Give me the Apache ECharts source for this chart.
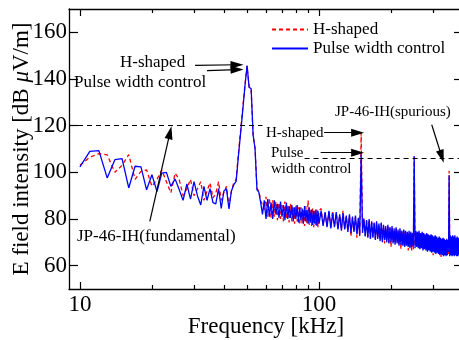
<!DOCTYPE html>
<html><head><meta charset="utf-8">
<script src="https://cdn.jsdelivr.net/npm/echarts@6/dist/echarts.min.js"></script>
<style>html,body{margin:0;padding:0;background:#fff}#c{width:459px;height:340px}</style>
</head><body><div id="c"></div>
<script>
// Frequencies in kHz
const freqLow = [10,11,12,13,14,15,16,17,18,19,20,21,22,23,24,25,26,27,28,29,30,31,32,33,34,35,36,37,38,39,40,41,42,43,44,45,46,47,48,49,50,51,52,53,54,55,56,57,58,59,60,61,62,63,64,65,66,67,68,69,70,71,72,73,74,75,76,77,78,79,80,81,82,83,84,85,86,87,88,89,90,91,92,93,94,95,96,97,98,99,100];
const freqHigh = [102,104,106,108,110,112,114,116,118,120,122,124,126,128,130,132,134,136,138,140,142,144,146,148,150,152,154,156,158,160,162,164,166,168,170,172,174,176,178,180,182,184,186,188,190,192,194,196,198,200,202,204,206,208,210,212,214,216,218,220,222,224,226,228,230,232,234,236,238,240,242,244,246,248,250,252,254,256,258,260,262,264,266,268,270,272,274,276,278,280,282,284,286,288,290,292,294,296,298,300,302,304,306,308,310,312,314,316,318,320,322,324,326,328,330,332,334,336,338,340,342,344,346,348,350,352,354,356,358,360,362,364,366,368,370,372,374,376,378,380,382,384,386,388,390,392,394,396,398,400];

// Pulse width control (blue), dB uV/m
const blueLow = [
102.3,109,109.3,97.6,105.4,105.9,93.3,102.6,102.3,92.5,
99,91.8,99.7,100,94,97.2,92.6,88,95,88.5,
96,90,86,94,88,93,87,86.5,93,84.5,
92,93,84.3,92,94.7,96.1,107,117,127,137,
145.8,136.5,135.8,116,110,92.5,91.5,87,82,88,
80,88.5,81,87,80,88,82,86.5,80.5,87.5,
81,86,79.5,87,80,85.5,80.5,86,79,85,
80,86,78.5,85,79.5,84.5,78,85.5,79,84,
78,85,78.5,84,77.5,83.5,78,84,77,83.5,
78];
const blueHigh = [
83.5,77,83,76.5,83.5,76,82.5,76.5,83,75.5,
82,75,82.5,75.5,81.5,74.5,82,74,81,74.5,
81.5,73.5,80.5,73,
107.6,
74,80,72.5,79.5,72,80,71.5,79,72,78.5,
71,79,71.5,78,70.5,78.5,70,77.5,71,77,
70,77.5,69.5,76.5,70,77,69.5,76,69,76.5,
69.5,75.5,68.5,76,69,75,68.5,75.5,68,75,
68.5,74.5,68,75,67.5,74.5,68,74,68.5,
107,
67.5,75,68,74.5,67.5,75,67,74,67.5,74.5,
66.5,74,67,73.5,66.5,74,66,73.5,66.5,73,
66,73.5,65.5,73,66,72.5,65.5,73,65,72.5,
65.5,72,65,72.5,64.5,72,65,71.5,64.5,72,
64,71.5,64.5,71,64,71.5,64.5,71,66,
98.6,
64,73,64.5,72.5,64,73,64.5,72.5,64,73,
64.5,72,64,72.5,64,72,64.5,72,64,72,
64.5,71.5,64,72,64];

// H-shaped (red dashed)
const redLow = [
103,106.5,108,107.5,100,103,107.6,97,100.4,101,
94,97,101,96,91.2,99.7,97,90,93,97,
90,93,96,88,92,95.5,89,91,96,88,
91.5,94,85.5,92,95.5,97,108,118,128,137.5,
145.5,136.5,135.5,116,110.5,93,92,88,86,84,
89.5,81,89,80.5,88,81,87.5,79.5,87,80,
86,79,87.5,80,86,78.5,86.5,79,85.5,78,
86,79,85,77.5,85,78,84.5,77,85.5,78,
88,77.5,84,77,84.5,76.5,83.5,77,84,76.5,
83.5];
const redHigh = [
84.5,77.5,82.5,77,83,76.5,83.5,77,82.5,76,
81.5,75.5,83.5,76,81,75,81.5,72.5,80.5,75,
81,72,80,72.5,
117,
76,80.5,73,79,72.5,79.5,72,78.5,72.5,78,
71.5,78.5,72,77.5,71,78,70.5,77,69.5,76.5,
70.5,77,70,76,68,76.5,70,75.5,69.5,76,
70,75,69,75.5,67,74.5,69,75,68.5,74.5,
69,74,66.5,74.5,68,74,66.5,73.5,67,
106.5,
68.5,74.5,68.5,74,68,74.5,67.5,73.5,68,74,
67,73.5,67.5,73,67,73.5,66.5,73,67,72.5,
66.5,73,66,72.5,64.5,72,66,72.5,65.5,72,
66,71.5,65.5,72,65,71.5,63.5,71,65,71.5,
64.5,71,65,70.5,64.5,71,65,70.5,65,
100.7,
65,72.5,65,72,64.5,72.5,65,72,64.5,72.5,
65,71.5,64.5,72,64.5,71.5,65,71.5,64.5,71.5,
65,71,64.5,71.5,64.5];

// Axis tick values
const xMajorTicks = [10, 100];
const xMinorTicks = [20,30,40,50,60,70,80,90,200,300,400];
const yTickValues = [60,80,100,120,140,160];
const seriesNames = ['H-shaped', 'Pulse width control'];

const freqs = freqLow.concat(freqHigh);
const blue = blueLow.concat(blueHigh);
const red = redLow.concat(redHigh);
const redData = freqs.map((f, i) => [f, red[i]]);
const blueData = freqs.map((f, i) => [f, blue[i]]);

const FONT = 'Liberation Serif';
const X_MIN = 9, X_MAX = 400, Y_MIN = 50, Y_MAX = 170;

function xAxis(position, ticks, len, showLine, showLabel) {
  return {
    type: 'log', logBase: 10, min: X_MIN, max: X_MAX, position: position, gridIndex: 0,
    splitLine: {show: false},
    axisLine: {show: showLine, onZero: false, lineStyle: {color: '#000', width: 1.3}},
    axisTick: {show: true, inside: true, length: len, customValues: ticks, lineStyle: {color: '#000', width: 1.2}},
    axisLabel: showLabel ? {show: true, customValues: xMajorTicks, margin: 4, color: '#000', fontFamily: FONT, fontSize: 23, formatter: v => String(v)} : {show: false},
    minorTick: {show: false}
  };
}

const chart = echarts.init(document.getElementById('c'), null, {renderer: 'canvas'});

const arrowEnd = {symbol: 'triangle', symbolSize: [8, 13]};
const blk = {color: '#000', width: 1.2, type: 'solid'};
const dsh = {color: '#000', width: 1.1, type: [5, 4]};
function ml(a, b, style, arrow) {
  return [
    {coord: a, symbol: 'none', lineStyle: style},
    Object.assign({coord: b, lineStyle: style}, arrow ? arrowEnd : {symbol: 'none'})
  ];
}

const txt = (x, y, s, fs) => ({type: 'text', x: x, y: y, silent: true,
  style: {text: s, fill: '#000', font: fs + 'px "' + FONT + '"', align: 'left', verticalAlign: 'middle'}});

chart.setOption({
  animation: false,
  backgroundColor: '#fff',
  grid: {left: 69, top: 9, width: 394, height: 280, containLabel: false, outerBoundsMode: 'none'},
  xAxis: [
    Object.assign(xAxis('bottom', xMajorTicks, 7, true, true), {
      name: 'Frequency [kHz]', nameLocation: 'middle', nameGap: 26, nameMoveOverlap: false,
      nameTextStyle: {fontFamily: FONT, fontSize: 23, color: '#000'}
    }),
    xAxis('bottom', xMinorTicks, 4, false, false),
    xAxis('top', xMajorTicks, 7, true, false),
    xAxis('top', xMinorTicks, 4, false, false)
  ],
  yAxis: [
    {
      type: 'value', min: Y_MIN, max: Y_MAX, position: 'left', gridIndex: 0,
      splitLine: {show: false},
      axisLine: {show: true, onZero: false, lineStyle: {color: '#000', width: 1.3}},
      axisTick: {show: true, inside: true, length: 9, customValues: yTickValues, lineStyle: {color: '#000', width: 1.2}},
      axisLabel: {show: true, customValues: yTickValues, margin: 2, color: '#000', fontFamily: FONT, fontSize: 23},
      name: 'E field intensity [dB {i|μ}V/m]', nameLocation: 'middle', nameGap: 36, nameRotate: 90, nameMoveOverlap: false,
      nameTextStyle: {fontFamily: FONT, fontSize: 23, color: '#000',
        rich: {i: {fontFamily: FONT, fontSize: 23, fontStyle: 'italic', color: '#000'}}}
    },
    {
      type: 'value', min: Y_MIN, max: Y_MAX, position: 'right', gridIndex: 0,
      splitLine: {show: false},
      axisLine: {show: true, onZero: false, lineStyle: {color: '#000', width: 1.3}},
      axisTick: {show: true, inside: true, length: 9, customValues: yTickValues, lineStyle: {color: '#000', width: 1.2}},
      axisLabel: {show: false}
    }
  ],
  legend: {
    left: 266, top: 16, orient: 'vertical', itemWidth: 36, itemHeight: 14, itemGap: 2,
    data: seriesNames, selectedMode: false,
    itemStyle: {opacity: 0},
    textStyle: {fontFamily: FONT, fontSize: 17, color: '#000', padding: [0, 0, 0, 0]}
  },
  series: [
    {
      name: seriesNames[0], type: 'line', xAxisIndex: 0, yAxisIndex: 0, data: redData,
      symbol: 'none', showSymbol: false, z: 2,
      lineStyle: {color: '#ff0000', width: 1.3, type: [4, 3]}, itemStyle: {color: '#ff0000'}
    },
    {
      name: seriesNames[1], type: 'line', xAxisIndex: 0, yAxisIndex: 0, data: blueData,
      symbol: 'none', showSymbol: false, z: 3,
      lineStyle: {color: '#0000ff', width: 1.3}, itemStyle: {color: '#0000ff'},
      markLine: {
        silent: true, animation: false, label: {show: false}, symbol: ['none', 'none'],
        emphasis: {disabled: true},
        data: [
          ml([9, 120], [58, 120], dsh, false),
          ml([87, 106], [400, 106], dsh, false),
          ml([30.3, 145.8], [45.4, 146.1], blk, true),
          ml([34, 143.6], [45.4, 144], blk, true),
          ml([19.6, 79], [23.8, 117], blk, true),
          ml([105, 117], [145, 117], blk, true),
          ml([101.6, 108.4], [145, 108.4], blk, true),
          ml([296, 120.4], [326, 106.8], blk, true)
        ]
      }
    }
  ],
  graphic: [
    txt(120, 62.6, 'H-shaped', 17),
    txt(74, 82.2, 'Pulse width control', 17),
    txt(77, 236.9, 'JP-46-IH(fundamental)', 17),
    txt(335, 112, 'JP-46-IH(spurious)', 15),
    txt(266, 133, 'H-shaped', 15),
    txt(271, 153, 'Pulse', 15),
    txt(271, 169, 'width control', 15)
  ]
});
</script>
</body></html>
